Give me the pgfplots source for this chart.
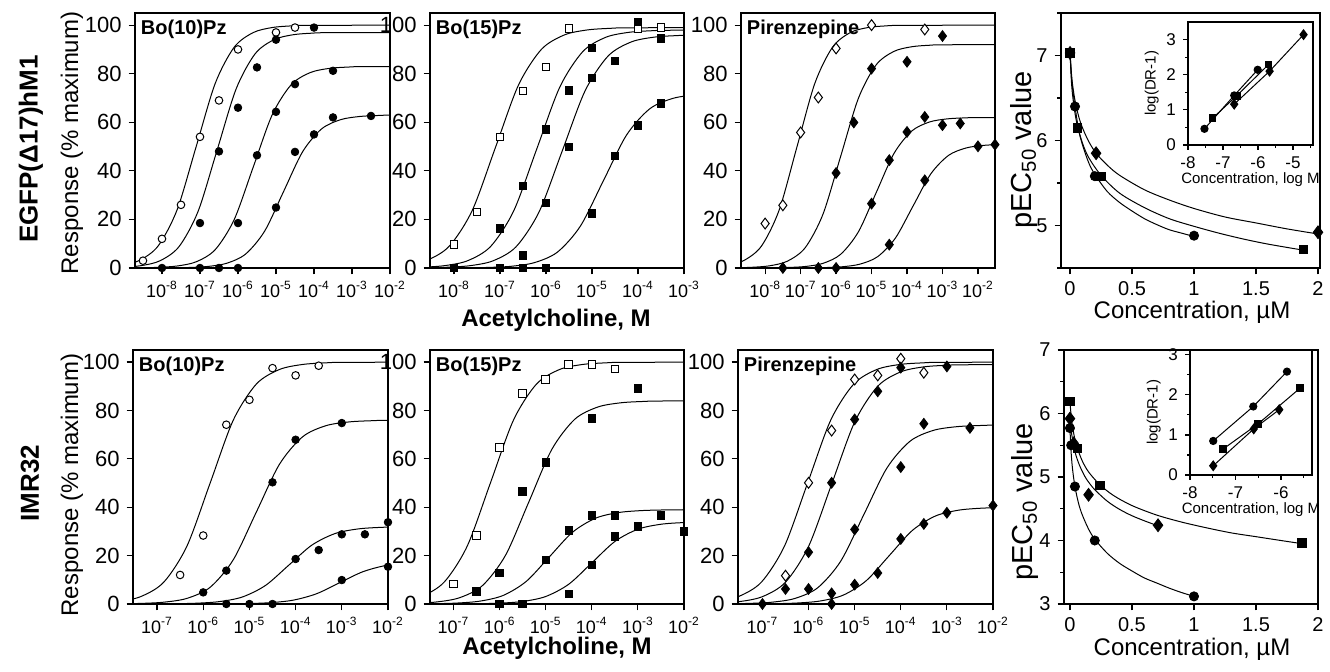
\documentclass[border=0pt]{standalone}
\usepackage{fontspec}
\setmainfont{Liberation Sans}
\usepackage{pgfplots}
\pgfplotsset{compat=1.18}
\newcommand{\tp}[1]{10\textsuperscript{#1}}
\tikzset{ttl/.style={anchor=north west, font=\bfseries\fontsize{10}{12}\selectfont, inner sep=1.5pt}}
\pgfplotsset{
  base/.style={anchor=south west, scale only axis,
    axis line style={line width=0.7pt}, tick style={black, line width=0.6pt},
    tick align=outside, major tick length=3.2pt, minor tick length=2pt,
    xtick pos=left, ytick pos=left,
    /pgf/number format/assume math mode=true},
  dr/.style={base, width=127.5pt, height=127.5pt, ymin=0, ymax=105,
    ytick={0,20,40,60,80,100},
    yticklabel style={font=\fontsize{11}{12}\selectfont},
    xticklabel style={font=\fontsize{9}{10}\selectfont}},
  crv/.style={black, line width=0.5pt, smooth},
  ocirc/.style={only marks, mark=*, mark size=1.9pt, mark options={draw=black, fill=white, line width=0.5pt}},
  fcirc/.style={only marks, black, mark=*, mark size=1.9pt},
  osq/.style={only marks, mark=square*, mark size=1.9pt, mark options={draw=black, fill=white, line width=0.5pt}},
  fsq/.style={only marks, black, mark=square*, mark size=1.9pt},
  odia/.style={only marks, mark=diamond*, mark size=2.7pt, mark options={draw=black, fill=white, line width=0.5pt}},
  fdia/.style={only marks, black, mark=diamond*, mark size=2.7pt},
  inset/.style={base, axis background/.style={fill=white},
    ticklabel style={font=\fontsize{8.5}{10}\selectfont},
    label style={font=\fontsize{7.5}{9}\selectfont},
    xlabel style={yshift=5pt}, ylabel style={yshift=-3pt},
    major tick length=2.5pt, minor tick length=1.5pt},
}
\begin{document}
\begin{tikzpicture}
\path[use as bounding box] (0,0) rectangle (665pt,336pt);

% ---------------- row 1 ----------------
\begin{axis}[dr, at={(67.5pt,202pt)}, xmin=-8.71, xmax=-2, xtick={-8,...,-2},
  xticklabels={\tp{-8},\tp{-7},\tp{-6},\tp{-5},\tp{-4},\tp{-3},\tp{-2}}]
\addplot[crv] coordinates {(-11.1,0.01) (-10.1,0.1) (-9.6,0.32) (-9.1,0.99) (-8.6,3.07) (-8.1,9.09) (-7.6,24.03) (-7.1,50) (-6.6,75.97) (-6.1,90.91) (-5.6,96.93) (-5.1,99.01) (-4.6,99.68) (-4.1,99.9) (-1.1,100)};
\addplot[crv] coordinates {(-10.55,0.01) (-9.55,0.1) (-9.05,0.31) (-8.55,0.96) (-8.05,2.98) (-7.55,8.82) (-7.05,23.31) (-6.55,48.5) (-6.05,73.69) (-5.55,88.18) (-5.05,94.02) (-4.55,96.04) (-4.05,96.69) (-3.55,96.9) (-0.55,97)};
\addplot[crv] coordinates {(-9.6,0.01) (-8.6,0.08) (-8.1,0.27) (-7.6,0.82) (-7.1,2.55) (-6.6,7.54) (-6.1,19.94) (-5.6,41.5) (-5.1,63.06) (-4.6,75.46) (-4.1,80.45) (-3.6,82.18) (-3.1,82.73) (-2.6,82.92) (0.4,83)};
\addplot[crv] coordinates {(-8.8,0.01) (-7.8,0.06) (-7.3,0.2) (-6.8,0.62) (-6.3,1.93) (-5.8,5.73) (-5.3,15.14) (-4.8,31.5) (-4.3,47.86) (-3.8,57.27) (-3.3,61.07) (-2.8,62.38) (-2.3,62.8) (-1.8,62.94) (1.2,63)};
\addplot[ocirc] coordinates {(-8.5,3) (-8,12) (-7.5,26) (-7,54) (-6.5,69) (-6,90) (-5,97) (-4.5,99)};
\addplot[fcirc] coordinates {(-8,0) (-7,18.5) (-6.5,48) (-6,66) (-5.5,82.6) (-5,94) (-4,99)};
\addplot[fcirc] coordinates {(-7,0) (-6,18.5) (-5.5,46.4) (-5,64.3) (-4.5,75.7) (-3.5,81.2)};
\addplot[fcirc] coordinates {(-6.5,0) (-6,0) (-5,24.9) (-4.5,47.8) (-4,55) (-3.5,62) (-2.5,62.6)};
\node[ttl] at (rel axis cs:0.01,0.985) {Bo(10)Pz};
\end{axis}

\begin{axis}[dr, at={(215pt,202pt)}, width=127pt, xmin=-8.52, xmax=-3, xtick={-8,...,-3},
  xticklabels={\tp{-8},\tp{-7},\tp{-6},\tp{-5},\tp{-4},\tp{-3}}]
\addplot[crv] coordinates {(-11.1,0.01) (-10.1,0.1) (-9.6,0.32) (-9.1,0.98) (-8.6,3.04) (-8.1,9.0) (-7.6,23.79) (-7.1,49.5) (-6.6,75.21) (-6.1,90.0) (-5.6,95.96) (-5.1,98.02) (-4.6,98.68) (-4.1,98.9) (-1.1,99)};
\addplot[crv] coordinates {(-10.2,0.01) (-9.2,0.1) (-8.7,0.31) (-8.2,0.97) (-7.7,3.01) (-7.2,8.91) (-6.7,23.55) (-6.2,49) (-5.7,74.45) (-5.2,89.09) (-4.7,94.99) (-4.2,97.03) (-3.7,97.69) (-3.2,97.9) (-0.2,98)};
\addplot[crv] coordinates {(-9.65,0.01) (-8.65,0.1) (-8.15,0.31) (-7.65,0.95) (-7.15,2.95) (-6.65,8.73) (-6.15,23.07) (-5.65,48) (-5.15,72.93) (-4.65,87.27) (-4.15,93.05) (-3.65,95.05) (-3.15,95.69) (-2.65,95.9) (0.35,96)};
\addplot[crv] coordinates {(-8.75,0.01) (-7.75,0.07) (-7.25,0.23) (-6.75,0.71) (-6.25,2.21) (-5.75,6.54) (-5.25,17.3) (-4.75,36) (-4.25,54.7) (-3.75,65.46) (-3.25,69.79) (-2.75,71.29) (-2.25,71.77) (-1.75,71.93) (1.25,72)};
\addplot[osq] coordinates {(-8,9.6) (-7.5,23.1) (-7,54) (-6.5,72.9) (-6,82.8) (-5.5,98.6) (-4,98.5) (-3.5,99)};
\addplot[fsq] coordinates {(-8,0) (-7,16.2) (-6.5,33.8) (-6,57) (-5.5,73) (-5,90.7) (-4,101.4)};
\addplot[fsq] coordinates {(-7,0) (-6.5,5.2) (-6,26.8) (-5.5,49.9) (-5,78.3) (-4.5,85.2) (-3.5,94.5)};
\addplot[fsq] coordinates {(-6.5,0) (-6,0) (-5,22.4) (-4.5,46.2) (-4,58.8) (-3.5,67.7)};
\node[ttl] at (rel axis cs:0.01,0.985) {Bo(15)Pz};
\end{axis}

\begin{axis}[dr, at={(370.5pt,202pt)}, width=127pt, xmin=-8.68, xmax=-1.52, xtick={-8,...,-2},
  xticklabels={\tp{-8},\tp{-7},\tp{-6},\tp{-5},\tp{-4},\tp{-3},\tp{-2}}]
\addplot[crv] coordinates {(-11.1,0.01) (-10.1,0.1) (-9.6,0.32) (-9.1,0.99) (-8.6,3.07) (-8.1,9.09) (-7.6,24.03) (-7.1,50) (-6.6,75.97) (-6.1,90.91) (-5.6,96.93) (-5.1,99.01) (-4.6,99.68) (-4.1,99.9) (-1.1,100)};
\addplot[crv] coordinates {(-9.87,0.01) (-8.87,0.09) (-8.37,0.29) (-7.87,0.91) (-7.37,2.82) (-6.87,8.36) (-6.37,22.11) (-5.87,46) (-5.37,69.89) (-4.87,83.64) (-4.37,89.18) (-3.87,91.09) (-3.37,91.71) (-2.87,91.91) (0.13,92)};
\addplot[crv] coordinates {(-8.87,0.01) (-7.87,0.06) (-7.37,0.2) (-6.87,0.61) (-6.37,1.9) (-5.87,5.64) (-5.37,14.9) (-4.87,31) (-4.37,47.1) (-3.87,56.36) (-3.37,60.1) (-2.87,61.39) (-2.37,61.8) (-1.87,61.94) (1.13,62)};
\addplot[crv] coordinates {(-9.83,0) (-7.83,0.01) (-6.83,0.05) (-6.33,0.16) (-5.83,0.5) (-5.33,1.57) (-4.83,4.64) (-4.33,12.26) (-3.83,25.5) (-3.33,38.74) (-2.83,46.36) (-2.33,49.43) (-1.83,50.5) (-1.33,50.84) (-0.83,50.95) (2.17,51)};
\addplot[odia] coordinates {(-8,18.3) (-7.5,25.8) (-7,55.8) (-6.5,70.2) (-6,90.4) (-5,100) (-3.5,98.2)};
\addplot[fdia] coordinates {(-7.5,0) (-6,39.1) (-5.5,59.9) (-5,82.1) (-4,84.9) (-3,95.5)};
\addplot[fdia] coordinates {(-6.5,0) (-5,26.5) (-4.5,44.4) (-4,56) (-3.5,62.2) (-3,58.8) (-2.5,59.5)};
\addplot[fdia] coordinates {(-6,0) (-4.5,9.6) (-3.5,36.1) (-2,50.1) (-1.52,50.8)};
\node[ttl] at (rel axis cs:0.01,0.985) {Pirenzepine};
\end{axis}

\begin{axis}[base, at={(530.5pt,202pt)}, width=129.5pt, height=127.5pt,
  xmin=-0.073, xmax=2.016, ymin=4.5, ymax=7.5, xtick={0,0.5,1,1.5,2},
  ytick={5,6,7}, minor ytick={4.5,5.5,6.5,7.5},
  ticklabel style={font=\fontsize{10}{12}\selectfont}]
\addplot[crv] coordinates {(0,7.03) (0.01,6.78) (0.02,6.62) (0.04,6.40) (0.07,6.12) (0.1,5.95) (0.15,5.74) (0.2,5.60) (0.3,5.40) (0.4,5.27) (0.5,5.17) (0.6,5.08) (0.7,5.01) (0.8,4.95) (0.9,4.91) (1.0,4.87)};
\addplot[crv] coordinates {(0,7.03) (0.01,6.72) (0.02,6.54) (0.04,6.32) (0.06,6.17) (0.1,5.97) (0.15,5.80) (0.25,5.59) (0.4,5.38) (0.6,5.21) (0.8,5.08) (1.0,4.99) (1.2,4.91) (1.4,4.84) (1.6,4.78) (1.88,4.71)};
\addplot[crv] coordinates {(0,7.03) (0.01,6.81) (0.02,6.66) (0.04,6.47) (0.07,6.28) (0.1,6.15) (0.15,5.99) (0.21,5.85) (0.3,5.71) (0.4,5.59) (0.6,5.42) (0.8,5.30) (1.0,5.20) (1.25,5.10) (1.5,5.03) (1.75,4.96) (2.0,4.90)};
\addplot[only marks, black, mark=*, mark size=2.3pt] coordinates {(0,7.03) (0.04,6.4) (0.2,5.58) (1.0,4.88)};
\addplot[only marks, black, mark=square*, mark size=2.1pt] coordinates {(0,7.03) (0.06,6.15) (0.25,5.58) (1.88,4.72)};
\addplot[only marks, black, mark=diamond*, mark size=3.2pt] coordinates {(0,7.03) (0.21,5.85) (2.0,4.92)};
\end{axis}

\begin{axis}[inset, at={(594pt,263.5pt)}, width=62.5pt, height=61.5pt,
  xmin=-8, xmax=-4.43, ymin=0, ymax=3.5,
  xtick={-8,-7,-6,-5}, xticklabels={-8,-7,-6,-5}, minor xtick={-7.5,-6.5,-5.5,-4.5},
  ytick={0,1,2,3}, minor ytick={0.5,1.5,2.5},
  xlabel={Concentration, log M}, ylabel={log(DR-1)}]
\addplot[black, line width=0.5pt, mark=*, mark size=1.8pt] coordinates {(-7.53,0.46) (-6.68,1.41) (-6.01,2.14)};
\addplot[black, line width=0.5pt, mark=square*, mark size=1.7pt] coordinates {(-7.3,0.76) (-6.61,1.4) (-5.7,2.29)};
\addplot[black, line width=0.5pt, mark=diamond*, mark size=2.4pt] coordinates {(-6.68,1.16) (-5.67,2.1) (-4.7,3.14)};
\end{axis}

% ---------------- row 2 ----------------
\begin{axis}[dr, at={(66.5pt,34pt)}, height=127pt, xmin=-7.52, xmax=-2, xtick={-7,...,-2},
  xticklabels={\tp{-7},\tp{-6},\tp{-5},\tp{-4},\tp{-3},\tp{-2}}]
\addplot[crv] coordinates {(-9.85,0.01) (-8.85,0.1) (-8.35,0.32) (-7.85,0.99) (-7.35,3.07) (-6.85,9.09) (-6.35,24.03) (-5.85,50) (-5.35,75.97) (-4.85,90.91) (-4.35,96.93) (-3.85,99.01) (-3.35,99.68) (-2.85,99.9) (0.15,100)};
\addplot[crv] coordinates {(-8.85,0.01) (-7.85,0.08) (-7.35,0.24) (-6.85,0.75) (-6.35,2.33) (-5.85,6.91) (-5.35,18.26) (-4.85,38) (-4.35,57.74) (-3.85,69.09) (-3.35,73.67) (-2.85,75.25) (-2.35,75.76) (-1.85,75.92) (1.15,76)};
\addplot[crv] coordinates {(-8.15,0) (-7.15,0.03) (-6.65,0.1) (-6.15,0.32) (-5.65,0.98) (-5.15,2.91) (-4.65,7.69) (-4.15,16) (-3.65,24.31) (-3.15,29.09) (-2.65,31.02) (-2.15,31.68) (-1.65,31.9) (-1.15,31.97) (1.85,32)};
\addplot[crv] coordinates {(-9.05,0) (-7.05,0) (-6.05,0.02) (-5.55,0.06) (-5.05,0.17) (-4.55,0.54) (-4.05,1.59) (-3.55,4.21) (-3.05,8.75) (-2.55,13.29) (-2.05,15.91) (-1.55,16.96) (-1.05,17.33) (-0.55,17.44) (-0.05,17.48) (2.95,17.5)};
\addplot[ocirc] coordinates {(-6.5,12) (-6,28.3) (-5.5,74.1) (-5,84.4) (-4.5,97.5) (-4,94.5) (-3.5,98.5)};
\addplot[fcirc] coordinates {(-6,4.8) (-5.5,13.8) (-4.5,50.3) (-4,67.9) (-3,74.8)};
\addplot[fcirc] coordinates {(-5.5,0) (-5,0) (-4.5,0) (-4,18.6) (-3.5,22.3) (-3,28.8) (-2.5,28.8) (-2,33.8)};
\addplot[fcirc] coordinates {(-3,9.9) (-2,15.4)};
\node[ttl] at (rel axis cs:0.01,0.985) {Bo(10)Pz};
\end{axis}

\begin{axis}[dr, at={(215pt,34pt)}, width=127pt, height=127pt, xmin=-7.51, xmax=-2, xtick={-7,...,-2},
  xticklabels={\tp{-7},\tp{-6},\tp{-5},\tp{-4},\tp{-3},\tp{-2}}]
\addplot[crv] coordinates {(-10.2,0.01) (-9.2,0.1) (-8.7,0.32) (-8.2,0.99) (-7.7,3.07) (-7.2,9.09) (-6.7,24.03) (-6.2,50) (-5.7,75.97) (-5.2,90.91) (-4.7,96.93) (-4.2,99.01) (-3.7,99.68) (-3.2,99.9) (-0.2,100)};
\addplot[crv] coordinates {(-9.37,0.01) (-8.37,0.08) (-7.87,0.27) (-7.37,0.83) (-6.87,2.58) (-6.37,7.64) (-5.87,20.19) (-5.37,42) (-4.87,63.81) (-4.37,76.36) (-3.87,81.42) (-3.37,83.17) (-2.87,83.73) (-2.37,83.92) (0.63,84)};
\addplot[crv] coordinates {(-8.92,0) (-7.92,0.04) (-7.42,0.12) (-6.92,0.39) (-6.42,1.2) (-5.92,3.55) (-5.42,9.37) (-4.92,19.5) (-4.42,29.63) (-3.92,35.45) (-3.42,37.8) (-2.92,38.61) (-2.42,38.88) (-1.92,38.96) (1.08,39)};
\addplot[crv] coordinates {(-8,0) (-7,0.03) (-6.5,0.11) (-6,0.34) (-5.5,1.04) (-5,3.09) (-4.5,8.17) (-4,17) (-3.5,25.83) (-3,30.91) (-2.5,32.96) (-2,33.66) (-1.5,33.89) (-1,33.97) (2,34)};
\addplot[osq] coordinates {(-7,8.3) (-6.5,28.3) (-6,64.6) (-5.5,86.9) (-5,92.8) (-4.5,99) (-4,99) (-3.5,97.2)};
\addplot[fsq] coordinates {(-6.5,5.2) (-6,12.8) (-5.5,46.6) (-5,58.6) (-4,76.8) (-3,89)};
\addplot[fsq] coordinates {(-6,0) (-5.5,0) (-5,18.2) (-4.5,30.3) (-4,36.6) (-3.5,36.6) (-2.5,36.6)};
\addplot[fsq] coordinates {(-4.5,4.1) (-4,16.1) (-3.5,27.9) (-3,32.1) (-2,30.1)};
\node[ttl] at (rel axis cs:0.01,0.985) {Bo(15)Pz};
\end{axis}

\begin{axis}[dr, at={(369pt,34pt)}, height=127pt, xmin=-7.53, xmax=-2, xtick={-7,...,-2},
  xticklabels={\tp{-7},\tp{-6},\tp{-5},\tp{-4},\tp{-3},\tp{-2}}]
\addplot[crv] coordinates {(-10.02,0.01) (-9.02,0.1) (-8.52,0.32) (-8.02,0.99) (-7.52,3.07) (-7.02,9.09) (-6.52,24.03) (-6.02,50) (-5.52,75.97) (-5.02,90.91) (-4.52,96.93) (-4.02,99.01) (-3.52,99.68) (-3.02,99.9) (-0.02,100)};
\addplot[crv] coordinates {(-9.5,0.01) (-8.5,0.1) (-8,0.32) (-7.5,0.98) (-7,3.04) (-6.5,9.0) (-6,23.79) (-5.5,49.5) (-5,75.21) (-4.5,90.0) (-4,95.96) (-3.5,98.02) (-3,98.68) (-2.5,98.9) (0.5,99)};
\addplot[crv] coordinates {(-8.8,0.01) (-7.8,0.07) (-7.3,0.24) (-6.8,0.73) (-6.3,2.27) (-5.8,6.73) (-5.3,17.78) (-4.8,37) (-4.3,56.22) (-3.8,67.27) (-3.3,71.73) (-2.8,73.27) (-2.3,73.76) (-1.8,73.93) (1.2,74)};
\addplot[crv] coordinates {(-8.25,0) (-7.25,0.04) (-6.75,0.13) (-6.25,0.4) (-5.75,1.23) (-5.25,3.64) (-4.75,9.61) (-4.25,20) (-3.75,30.39) (-3.25,36.36) (-2.75,38.77) (-2.25,39.6) (-1.75,39.87) (-1.25,39.96) (1.75,40)};
\addplot[odia] coordinates {(-6.5,11.7) (-6,50.1) (-5.5,71.7) (-5,92.8) (-4.5,94.5) (-4,101.4) (-3.5,95.6)};
\addplot[fdia] coordinates {(-7,0) (-6.5,6.2) (-6,21.4) (-5.5,50.1) (-5,76.3) (-4.5,87.9) (-4,97.7) (-3,98.2)};
\addplot[fdia] coordinates {(-6,6.2) (-5.5,4.4) (-5,30.8) (-4,56.6) (-3.5,74.5) (-2.5,72.8)};
\addplot[fdia] coordinates {(-5.5,0) (-5,8) (-4.5,12.8) (-4,26.9) (-3.5,33.1) (-3,37.7) (-2,40.7)};
\node[ttl] at (rel axis cs:0.01,0.985) {Pirenzepine};
\end{axis}

\begin{axis}[base, at={(532pt,34pt)}, width=127pt, height=127pt,
  xmin=-0.048, xmax=2.0, ymin=3, ymax=7, xtick={0,0.5,1,1.5,2},
  ytick={3,4,5,6,7}, minor ytick={3.5,4.5,5.5,6.5},
  ticklabel style={font=\fontsize{10}{12}\selectfont}]
\addplot[crv] coordinates {(0,5.77) (0.005,5.54) (0.01,5.37) (0.02,5.14) (0.04,4.85) (0.07,4.58) (0.1,4.40) (0.15,4.18) (0.2,4.02) (0.3,3.80) (0.4,3.64) (0.5,3.52) (0.6,3.41) (0.7,3.33) (0.8,3.25) (0.9,3.18) (1.0,3.12)};
\addplot[crv] coordinates {(0,6.19) (0.01,5.95) (0.02,5.80) (0.04,5.59) (0.06,5.45) (0.1,5.25) (0.15,5.08) (0.24,4.88) (0.35,4.71) (0.5,4.55) (0.7,4.40) (0.9,4.29) (1.1,4.20) (1.3,4.12) (1.5,4.06) (1.7,4.00) (1.87,3.95)};
\addplot[crv] coordinates {(0,5.92) (0.01,5.73) (0.02,5.60) (0.03,5.49) (0.05,5.33) (0.08,5.17) (0.12,5.01) (0.15,4.92) (0.2,4.80) (0.3,4.62) (0.4,4.49) (0.5,4.39) (0.6,4.31) (0.71,4.23)};
\addplot[only marks, black, mark=*, mark size=2.3pt] coordinates {(0,5.77) (0.01,5.5) (0.04,4.85) (0.2,4.0) (1.0,3.12)};
\addplot[only marks, black, mark=square*, mark size=2.1pt] coordinates {(0,6.19) (0.06,5.45) (0.24,4.87) (1.87,3.96)};
\addplot[only marks, black, mark=diamond*, mark size=3.2pt] coordinates {(0,5.92) (0.03,5.53) (0.15,4.72) (0.71,4.24)};
\end{axis}

\begin{axis}[inset, at={(595pt,98.5pt)}, width=61pt, height=62.5pt,
  xmin=-8, xmax=-5.32, ymin=0, ymax=3.12,
  xtick={-8,-7,-6}, xticklabels={-8,-7,-6}, minor xtick={-7.5,-6.5,-5.5},
  ytick={0,1,2,3}, minor ytick={0.5,1.5,2.5},
  xlabel={Concentration, log M}, ylabel={log(DR-1)}]
\addplot[black, line width=0.5pt, mark=*, mark size=1.8pt] coordinates {(-7.49,0.85) (-6.61,1.71) (-5.87,2.58)};
\addplot[black, line width=0.5pt, mark=square*, mark size=1.7pt] coordinates {(-7.27,0.65) (-6.5,1.28) (-5.58,2.17)};
\addplot[black, line width=0.5pt, mark=diamond*, mark size=2.4pt] coordinates {(-7.49,0.23) (-6.6,1.15) (-6.04,1.63)};
\end{axis}

% ---------------- outer labels ----------------
\node[rotate=90, font=\bfseries\fontsize{13}{15}\selectfont] at (15.5pt,261.5pt) {EGFP(Δ17)hM1};
\node[rotate=90, font=\bfseries\fontsize{13}{15}\selectfont] at (15pt,94.5pt) {IMR32};
\node[rotate=90, font=\fontsize{12}{14}\selectfont] at (36pt,264.5pt) {Response (\% maximum)};
\node[rotate=90, font=\fontsize{12}{14}\selectfont] at (36pt,93.5pt) {Response (\% maximum)};
\node[font=\bfseries\fontsize{12}{14}\selectfont] at (278pt,176pt) {Acetylcholine, M};
\node[font=\bfseries\fontsize{12}{14}\selectfont] at (278.5pt,12pt) {Acetylcholine, M};
\node[font=\fontsize{12}{14}\selectfont] at (596pt,180pt) {Concentration, µM};
\node[font=\fontsize{12}{14}\selectfont] at (596pt,11.5pt) {Concentration, µM};
\node[rotate=90, font=\fontsize{14.5}{17}\selectfont] at (512pt,261pt) {pEC\textsubscript{50} value};
\node[rotate=90, font=\fontsize{14.5}{17}\selectfont] at (512.5pt,85pt) {pEC\textsubscript{50} value};
\end{tikzpicture}
\end{document}
